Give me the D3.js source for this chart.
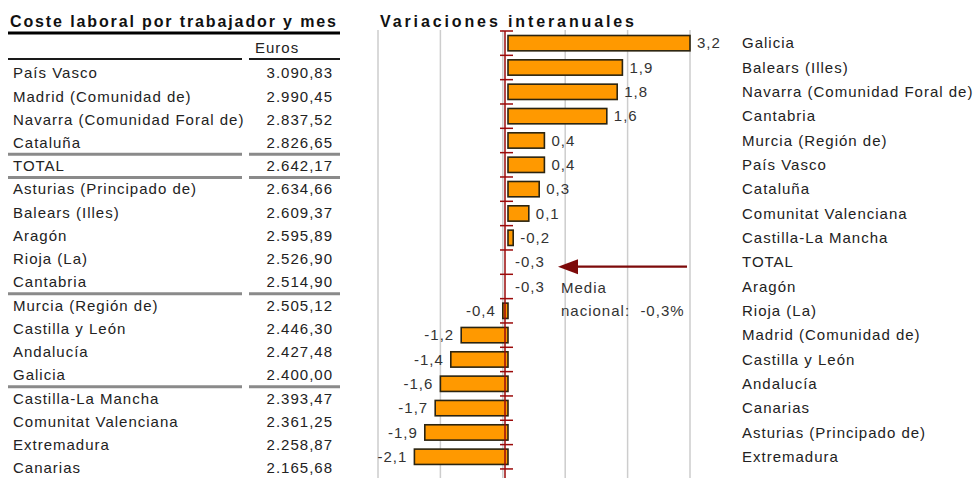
<!DOCTYPE html>
<html>
<head>
<meta charset="utf-8">
<script src="https://cdn.jsdelivr.net/npm/d3@7"></script>
<style>
  html, body { margin: 0; padding: 0; background: #fff; }
  svg { display: block; font-family: "Liberation Sans", Arial, sans-serif; }
  .pre { white-space: pre; }
</style>
</head>
<body>
<svg id="chart" width="979" height="478"></svg>
<script>
// Labour cost per worker and month, by autonomous community (euros)
const tableRegions = [
  "País Vasco", "Madrid (Comunidad de)", "Navarra (Comunidad Foral de)", "Cataluña",
  "TOTAL", "Asturias (Principado de)", "Balears (Illes)", "Aragón", "Rioja (La)",
  "Cantabria", "Murcia (Región de)", "Castilla y León", "Andalucía", "Galicia",
  "Castilla-La Mancha", "Comunitat Valenciana", "Extremadura", "Canarias"
];
const tableEuros = [
  3090.83, 2990.45, 2837.52, 2826.65, 2642.17, 2634.66, 2609.37, 2595.89, 2526.90,
  2514.90, 2505.12, 2446.30, 2427.48, 2400.00, 2393.47, 2361.25, 2258.87, 2165.68
];
// rows that open a new group in the table (a rule is drawn above them)
const tableGroupStarts = ["TOTAL", "Asturias (Principado de)", "Murcia (Región de)", "Castilla-La Mancha"];

// Year-on-year change (%)
const chartRegions = [
  "Galicia", "Balears (Illes)", "Navarra (Comunidad Foral de)", "Cantabria",
  "Murcia (Región de)", "País Vasco", "Cataluña", "Comunitat Valenciana",
  "Castilla-La Mancha", "TOTAL", "Aragón", "Rioja (La)", "Madrid (Comunidad de)",
  "Castilla y León", "Andalucía", "Canarias", "Asturias (Principado de)", "Extremadura"
];
const chartVariation = [
  3.2, 1.9, 1.8, 1.6, 0.4, 0.4, 0.3, 0.1, -0.2, -0.3, -0.3, -0.4, -1.2, -1.4, -1.6, -1.7, -1.9, -2.1
];
const nationalMean = -0.3;
const gridTicks = [-2.8, -1.6, -0.4, 0.8, 2.0, 3.2];

const tableTitle = "Coste laboral por trabajador y mes";
const tableHeader = "Euros";
const chartTitle = "Variaciones interanuales";
const noteLines = ["Media", "nacional:  -0,3%"];

const es = d3.formatLocale({ decimal: ",", thousands: ".", grouping: [3], currency: ["", " €"], minus: "-" });
const fmtEuro = es.format(",.2f");
const fmtPct = es.format(".1f");

const svg = d3.select("#chart");
const textColor = "#222";
const bodySize = "15px";
const spacing = "1px";

/* ---------- Table ---------- */
const tbl = svg.append("g");

tbl.append("text")
  .attr("x", 10).attr("y", 27)
  .attr("font-size", "16px").attr("font-weight", "bold")
  .attr("textLength", 326).attr("lengthAdjust", "spacing")
  .attr("fill", "#111")
  .text(tableTitle);

tbl.append("line")
  .attr("x1", 8).attr("x2", 340).attr("y1", 33).attr("y2", 33)
  .attr("stroke", "#000").attr("stroke-width", 3);

tbl.append("text")
  .attr("x", 255).attr("y", 53)
  .attr("font-size", bodySize).attr("letter-spacing", spacing)
  .attr("fill", textColor)
  .text(tableHeader);

const colSegments = [[8, 242], [249, 340]];
colSegments.forEach(([a, b]) => {
  tbl.append("line")
    .attr("x1", a).attr("x2", b).attr("y1", 59).attr("y2", 59)
    .attr("stroke", "#1a1a1a").attr("stroke-width", 2.2);
});

const rowY = d3.scaleBand()
  .domain(tableRegions)
  .range([61.4, 61.4 + 23.24 * tableRegions.length]);

const rows = tbl.selectAll("g.row")
  .data(tableRegions.map((r, i) => ({ region: r, euros: tableEuros[i] })))
  .join("g")
  .attr("class", "row")
  .attr("transform", d => `translate(0,${rowY(d.region) + rowY.bandwidth() / 2})`);

rows.append("text")
  .attr("x", 13).attr("dy", "0.35em")
  .attr("font-size", bodySize).attr("letter-spacing", spacing)
  .attr("fill", textColor)
  .text(d => d.region);

rows.append("text")
  .attr("x", 333).attr("dy", "0.35em")
  .attr("text-anchor", "end")
  .attr("font-size", bodySize).attr("letter-spacing", spacing)
  .attr("fill", textColor)
  .text(d => fmtEuro(d.euros));

tableGroupStarts.forEach(r => {
  colSegments.forEach(([a, b]) => {
    tbl.append("line")
      .attr("x1", a).attr("x2", b)
      .attr("y1", rowY(r)).attr("y2", rowY(r))
      .attr("stroke", "#8a8a8a").attr("stroke-width", 3);
  });
});

/* ---------- Bar chart ---------- */
const chart = svg.append("g");

const x = d3.scaleLinear().domain([-2.8, 3.2]).range([378, 690]);
const y = d3.scaleBand()
  .domain(chartRegions)
  .range([31, 31 + 24.33 * chartRegions.length])
  .paddingInner(0.37)
  .paddingOuter(0.185);

chart.append("text")
  .attr("x", 380).attr("y", 27)
  .attr("font-size", "16px").attr("font-weight", "bold")
  .attr("textLength", 254).attr("lengthAdjust", "spacing")
  .attr("fill", "#111")
  .text(chartTitle);

// vertical gridlines
chart.selectAll("line.grid")
  .data(gridTicks)
  .join("line")
  .attr("class", "grid")
  .attr("x1", d => x(d)).attr("x2", d => x(d))
  .attr("y1", 30).attr("y2", 478)
  .attr("stroke", "#cdcdcd").attr("stroke-width", 1.5);

const base = x(nationalMean);
const data = chartRegions.map((r, i) => ({ region: r, value: chartVariation[i] }));

// bars measured from the national mean
chart.selectAll("rect.bar")
  .data(data.filter(d => d.value !== nationalMean))
  .join("rect")
  .attr("class", "bar")
  .attr("x", d => Math.min(x(d.value), base))
  .attr("y", d => y(d.region))
  .attr("width", d => Math.abs(x(d.value) - base))
  .attr("height", y.bandwidth())
  .attr("fill", "#ff9900")
  .attr("stroke", "#2b2410").attr("stroke-width", 1.6);

// category axis at the national mean
const step = y.step();
const axisColor = "#9b0a0a";
chart.append("line")
  .attr("x1", base - 3).attr("x2", base - 3)
  .attr("y1", 31).attr("y2", 478)
  .attr("stroke", axisColor).attr("stroke-width", 1.5);

chart.selectAll("line.tick")
  .data(d3.range(chartRegions.length + 1))
  .join("line")
  .attr("class", "tick")
  .attr("x1", base - 8).attr("x2", base + 5)
  .attr("y1", k => 31 + k * step).attr("y2", k => 31 + k * step)
  .attr("stroke", axisColor).attr("stroke-width", 1.5);

// value labels
chart.selectAll("text.val")
  .data(data)
  .join("text")
  .attr("class", "val")
  .attr("x", d => d.value >= nationalMean ? x(d.value) + 7 : x(d.value) - 7)
  .attr("y", d => y(d.region) + y.bandwidth() / 2)
  .attr("dy", "0.35em")
  .attr("text-anchor", d => d.value >= nationalMean ? "start" : "end")
  .attr("font-size", bodySize).attr("letter-spacing", spacing)
  .attr("fill", "#333")
  .text(d => fmtPct(d.value));

// category names on the right
chart.selectAll("text.cat")
  .data(data)
  .join("text")
  .attr("class", "cat")
  .attr("x", 742)
  .attr("y", d => y(d.region) + y.bandwidth() / 2)
  .attr("dy", "0.35em")
  .attr("font-size", bodySize).attr("letter-spacing", spacing)
  .attr("fill", textColor)
  .text(d => d.region);

// national mean annotation
const arrowY = y("TOTAL") + y.bandwidth() / 2 + 4.5;
const tipX = 558, tailX = 687;
chart.append("line")
  .attr("x1", tipX + 15).attr("x2", tailX)
  .attr("y1", arrowY).attr("y2", arrowY)
  .attr("stroke", "#7d0a0a").attr("stroke-width", 2.2);
chart.append("path")
  .attr("d", `M${tipX},${arrowY} L${tipX + 20},${arrowY - 7.5} L${tipX + 20},${arrowY + 7.5} Z`)
  .attr("fill", "#7d0a0a");

noteLines.forEach((t, i) => {
  chart.append("text")
    .attr("class", "pre")
    .attr("x", 561).attr("y", 293 + i * 22.5)
    .attr("font-size", bodySize).attr("letter-spacing", spacing)
    .attr("fill", "#333")
    .text(t);
});
</script>
</body>
</html>
